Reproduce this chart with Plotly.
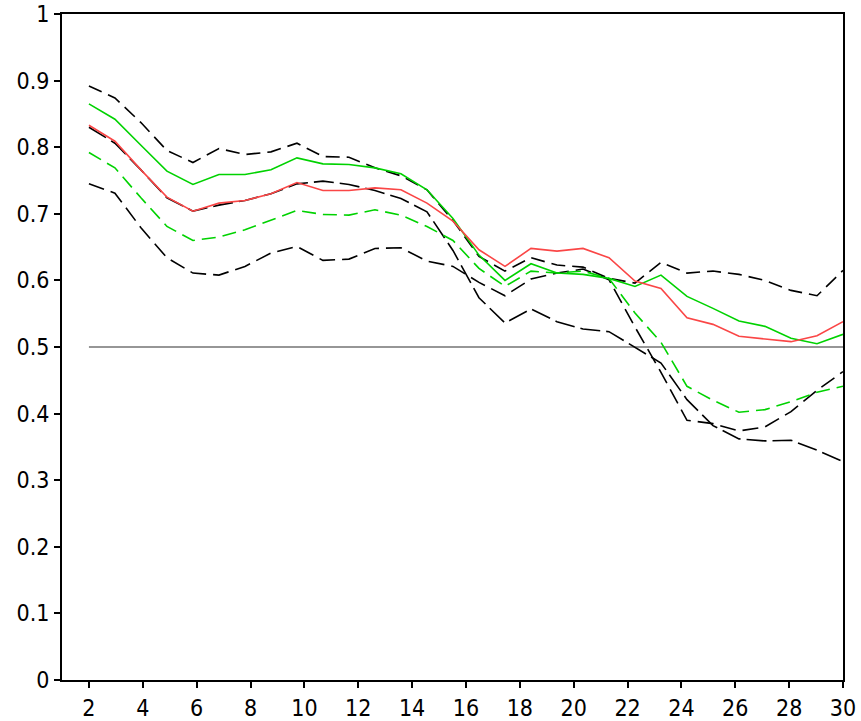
import numpy as np
import plotly.graph_objects as go

# x positions: 30 evenly spaced points from 2 to 30
x_vals = np.linspace(2, 30, 30)

black_upper = [0.892, 0.874, 0.837, 0.795, 0.777, 0.798, 0.789, 0.793, 0.806, 0.786,
               0.785, 0.769, 0.757, 0.736, 0.690, 0.636, 0.614, 0.634, 0.623, 0.620,
               0.603, 0.596, 0.627, 0.611, 0.614, 0.609, 0.600, 0.585, 0.577, 0.615]
green_solid = [0.865, 0.842, 0.803, 0.764, 0.744, 0.759, 0.759, 0.766, 0.784, 0.775,
               0.774, 0.769, 0.760, 0.736, 0.693, 0.638, 0.600, 0.625, 0.611, 0.609,
               0.603, 0.591, 0.608, 0.576, 0.558, 0.539, 0.531, 0.513, 0.505, 0.519]
red_solid = [0.833, 0.809, 0.766, 0.725, 0.704, 0.716, 0.720, 0.730, 0.747, 0.735,
             0.735, 0.739, 0.736, 0.716, 0.689, 0.646, 0.621, 0.648, 0.644, 0.648,
             0.634, 0.599, 0.588, 0.544, 0.534, 0.516, 0.512, 0.508, 0.517, 0.538]
black_middle = [0.830, 0.806, 0.766, 0.724, 0.704, 0.713, 0.720, 0.730, 0.745, 0.749,
                0.744, 0.735, 0.723, 0.703, 0.645, 0.574, 0.536, 0.557, 0.538, 0.527,
                0.523, 0.499, 0.476, 0.421, 0.382, 0.362, 0.359, 0.360, 0.345, 0.328]
green_dashed = [0.792, 0.769, 0.724, 0.681, 0.660, 0.665, 0.676, 0.691, 0.705, 0.699,
                0.698, 0.706, 0.698, 0.681, 0.660, 0.618, 0.591, 0.614, 0.611, 0.614,
                0.603, 0.551, 0.507, 0.441, 0.420, 0.402, 0.406, 0.418, 0.432, 0.441]
black_lower = [0.745, 0.731, 0.679, 0.634, 0.611, 0.608, 0.621, 0.641, 0.651, 0.630,
               0.632, 0.648, 0.649, 0.629, 0.621, 0.597, 0.577, 0.602, 0.611, 0.617,
               0.601, 0.530, 0.462, 0.390, 0.385, 0.374, 0.380, 0.403, 0.435, 0.463]

ref_x = [2, 30]
ref_y = [0.5, 0.5]

y_ticks = [0, 0.1, 0.2, 0.3, 0.4, 0.5, 0.6, 0.7, 0.8, 0.9, 1]
y_tick_labels = ["0", "0.1", "0.2", "0.3", "0.4", "0.5", "0.6", "0.7", "0.8", "0.9", "1"]
x_ticks = list(range(2, 31, 2))

fig = go.Figure()
fig.add_trace(go.Scatter(x=ref_x, y=ref_y, mode="lines",
                         line=dict(color="rgb(150,150,150)", width=2)))

for ys, dash in [(black_upper, "14px,7px"), (black_middle, "20px,6px"), (black_lower, "16px,7px")]:
    fig.add_trace(go.Scatter(x=x_vals, y=ys, mode="lines",
                             line=dict(color="black", width=1.6, dash=dash)))

fig.add_trace(go.Scatter(x=x_vals, y=green_dashed, mode="lines",
                         line=dict(color="rgb(0,210,0)", width=1.6, dash="14px,7px")))
fig.add_trace(go.Scatter(x=x_vals, y=green_solid, mode="lines",
                         line=dict(color="rgb(0,210,0)", width=1.6)))
fig.add_trace(go.Scatter(x=x_vals, y=red_solid, mode="lines",
                         line=dict(color="rgb(250,70,70)", width=1.6)))

font = dict(family="DejaVu Sans Condensed, Liberation Sans Narrow, sans-serif", size=23, color="black")

fig.update_layout(
    width=861, height=721,
    margin=dict(l=62, r=18, t=14, b=41, autoexpand=False),
    paper_bgcolor="white", plot_bgcolor="white",
    showlegend=False,
    font=font,
    xaxis=dict(range=[1, 30], tickvals=x_ticks, ticks="outside", ticklen=6, tickwidth=2,
               tickcolor="black", showline=True, linecolor="black", linewidth=2,
               mirror=True, showgrid=False, zeroline=False, tickfont=font, automargin=False,
               ticklabeloverflow="allow"),
    yaxis=dict(range=[0, 1], tickvals=y_ticks, ticktext=y_tick_labels, ticks="outside",
               ticklen=6, tickwidth=2, tickcolor="black", showline=True, linecolor="black",
               linewidth=2, mirror=True, showgrid=False, zeroline=False, tickfont=font,
               automargin=False, ticklabeloverflow="allow"),
)

fig.write_html("out.html",
               config={"displayModeBar": False, "staticPlot": True},
               post_script="document.body.style.margin='0';document.body.style.overflow='hidden';")
